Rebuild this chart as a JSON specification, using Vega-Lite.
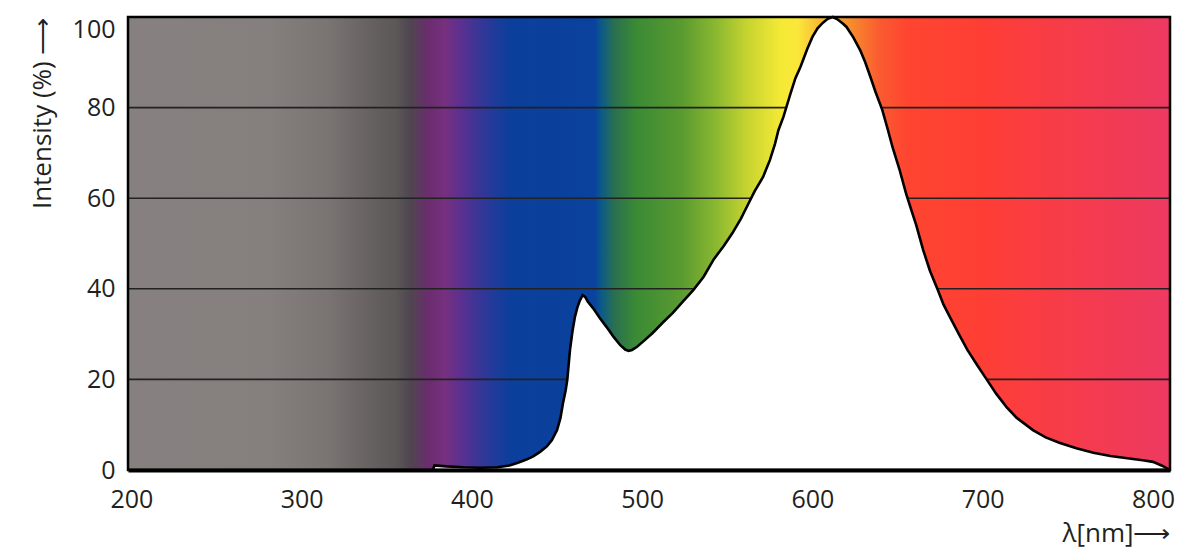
{
  "$schema": "https://vega.github.io/schema/vega-lite/v6.json",
  "width": 1042,
  "height": 453,
  "autosize": {"type": "none"},
  "padding": {"left": 128, "top": 17, "right": 30, "bottom": 84},
  "background": "white",
  "config": {"view": {"stroke": null}, "font": "Open Sans"},
  "datasets": {
    "band": [{"nm": 198, "nm2": 810, "pct": 0, "pct2": 100}],
    "grid": [{"pct": 20}, {"pct": 40}, {"pct": 60}, {"pct": 80}],
    "spectrum": [
      {"nm": 377, "pct": 0}, {"nm": 378, "pct": 1.0}, {"nm": 385, "pct": 0.8}, {"nm": 395, "pct": 0.6},
      {"nm": 405, "pct": 0.5}, {"nm": 415, "pct": 0.6}, {"nm": 422, "pct": 1.0}, {"nm": 427, "pct": 1.6},
      {"nm": 432, "pct": 2.3}, {"nm": 436, "pct": 3.0}, {"nm": 440, "pct": 4.0}, {"nm": 444, "pct": 5.2},
      {"nm": 447, "pct": 6.6}, {"nm": 450, "pct": 8.8}, {"nm": 452, "pct": 11.5}, {"nm": 453.5, "pct": 14.8},
      {"nm": 455, "pct": 17.5}, {"nm": 456, "pct": 19.9}, {"nm": 457.6, "pct": 26.5}, {"nm": 459, "pct": 30.5},
      {"nm": 460.5, "pct": 33.8}, {"nm": 462, "pct": 36}, {"nm": 463.5, "pct": 37.5}, {"nm": 465, "pct": 38.6},
      {"nm": 466.5, "pct": 38.2}, {"nm": 468, "pct": 37.2}, {"nm": 471, "pct": 35.8}, {"nm": 475, "pct": 33.6},
      {"nm": 479, "pct": 31.6}, {"nm": 483, "pct": 29.5}, {"nm": 487, "pct": 27.6}, {"nm": 490, "pct": 26.6},
      {"nm": 492, "pct": 26.3}, {"nm": 494, "pct": 26.5}, {"nm": 497, "pct": 27.2}, {"nm": 501, "pct": 28.5},
      {"nm": 506, "pct": 30.2}, {"nm": 512, "pct": 32.5}, {"nm": 518, "pct": 34.7}, {"nm": 524, "pct": 37.2},
      {"nm": 530, "pct": 39.7}, {"nm": 536, "pct": 42.6}, {"nm": 542, "pct": 46.5}, {"nm": 548, "pct": 49.5},
      {"nm": 553, "pct": 52.3}, {"nm": 558, "pct": 55.5}, {"nm": 562, "pct": 58.5}, {"nm": 566, "pct": 61.5},
      {"nm": 571, "pct": 64.7}, {"nm": 575, "pct": 68.4}, {"nm": 578, "pct": 72}, {"nm": 580, "pct": 75},
      {"nm": 583, "pct": 78}, {"nm": 587, "pct": 83}, {"nm": 590, "pct": 86.5}, {"nm": 593, "pct": 89},
      {"nm": 597, "pct": 93}, {"nm": 600, "pct": 95.6}, {"nm": 603, "pct": 97.5}, {"nm": 606, "pct": 98.7},
      {"nm": 609, "pct": 99.6}, {"nm": 612, "pct": 100}, {"nm": 615, "pct": 99.4}, {"nm": 618, "pct": 98.5},
      {"nm": 620, "pct": 97.8}, {"nm": 624, "pct": 95.5}, {"nm": 628, "pct": 92.7}, {"nm": 631, "pct": 90},
      {"nm": 634, "pct": 86.8}, {"nm": 637, "pct": 83.5}, {"nm": 641, "pct": 79.5}, {"nm": 644, "pct": 75.5},
      {"nm": 647, "pct": 71.3}, {"nm": 651, "pct": 66.5}, {"nm": 655, "pct": 61}, {"nm": 658, "pct": 57.5},
      {"nm": 661, "pct": 54}, {"nm": 665, "pct": 48.6}, {"nm": 669, "pct": 44}, {"nm": 673.7, "pct": 39.7},
      {"nm": 677, "pct": 36.5}, {"nm": 681, "pct": 33.6}, {"nm": 686, "pct": 30}, {"nm": 691, "pct": 26.5},
      {"nm": 697, "pct": 23}, {"nm": 702.5, "pct": 19.9}, {"nm": 708, "pct": 16.8}, {"nm": 714, "pct": 13.9},
      {"nm": 720, "pct": 11.5}, {"nm": 729.5, "pct": 8.8}, {"nm": 737, "pct": 7.2}, {"nm": 745, "pct": 6},
      {"nm": 755, "pct": 4.8}, {"nm": 765, "pct": 3.8}, {"nm": 775, "pct": 3.1}, {"nm": 785, "pct": 2.6},
      {"nm": 795, "pct": 2.1}, {"nm": 800, "pct": 1.8}, {"nm": 805, "pct": 1.0}, {"nm": 808, "pct": 0.4},
      {"nm": 810, "pct": 0}
    ]
  },
  "layer": [
    {
      "data": {"name": "band"},
      "mark": {
        "type": "rect",
        "fill": {
          "gradient": "linear", "x1": 0, "x2": 1, "y1": 0, "y2": 0,
          "stops": [
            {"offset": 0, "color": "#868180"},
            {"offset": 0.134, "color": "#857f7d"},
            {"offset": 0.191, "color": "#7a7473"},
            {"offset": 0.232, "color": "#676161"},
            {"offset": 0.2565, "color": "#5c5858"},
            {"offset": 0.271, "color": "#4f4650"},
            {"offset": 0.288, "color": "#6a2d6e"},
            {"offset": 0.304, "color": "#77307f"},
            {"offset": 0.3196, "color": "#5b3090"},
            {"offset": 0.336, "color": "#3a3595"},
            {"offset": 0.352, "color": "#1f3b9a"},
            {"offset": 0.368, "color": "#0b3f9b"},
            {"offset": 0.448, "color": "#0a429e"},
            {"offset": 0.454, "color": "#0a5a8a"},
            {"offset": 0.467, "color": "#2a7050"},
            {"offset": 0.487, "color": "#3a8a35"},
            {"offset": 0.531, "color": "#5a9a30"},
            {"offset": 0.564, "color": "#8ab830"},
            {"offset": 0.595, "color": "#c8d430"},
            {"offset": 0.627, "color": "#f5ea35"},
            {"offset": 0.643, "color": "#fbe63a"},
            {"offset": 0.665, "color": "#f8b835"},
            {"offset": 0.691, "color": "#f7902e"},
            {"offset": 0.722, "color": "#fa5a30"},
            {"offset": 0.748, "color": "#ff4530"},
            {"offset": 0.819, "color": "#fe3e35"},
            {"offset": 0.882, "color": "#f83c45"},
            {"offset": 0.948, "color": "#f23a55"},
            {"offset": 1, "color": "#ee3a62"}
          ]
        }
      },
      "encoding": {
        "x": {
          "field": "nm", "type": "quantitative",
          "scale": {"domain": [198, 810], "nice": false, "zero": false},
          "axis": {
            "values": [200, 300, 400, 500, 600, 700, 800],
            "ticks": false, "tickSize": 0, "grid": false,
            "domain": true, "domainColor": "black", "domainWidth": 4,
            "labelFontSize": 25, "labelColor": "#231f20", "labelPadding": 17, "labelFlush": false,
            "title": "λ[nm]⟶", "titleAnchor": "end", "titleFontSize": 26, "titleFontWeight": "normal",
            "titleColor": "#231f20", "titlePadding": 8, "zindex": 1
          }
        },
        "x2": {"field": "nm2"},
        "y": {
          "field": "pct", "type": "quantitative",
          "scale": {"domain": [0, 100], "nice": false},
          "axis": {
            "values": [0, 20, 40, 60, 80, 100],
            "ticks": false, "tickSize": 0, "grid": false, "domain": false,
            "labelFontSize": 25, "labelColor": "#231f20", "labelPadding": 13,
            "labelBaseline": {"condition": {"test": "datum.value == 100", "value": "top"}, "value": "middle"},
            "title": "Intensity (%) ⟶", "titleAnchor": "end", "titleFontSize": 26, "titleFontWeight": "normal",
            "titleColor": "#231f20", "titlePadding": 17
          }
        },
        "y2": {"field": "pct2"}
      }
    },
    {
      "data": {"name": "grid"},
      "mark": {"type": "rule", "color": "#222222", "strokeWidth": 1.6},
      "encoding": {"y": {"field": "pct", "type": "quantitative"}}
    },
    {
      "data": {"name": "spectrum"},
      "mark": {"type": "area", "color": "white", "opacity": 1},
      "encoding": {
        "x": {"field": "nm", "type": "quantitative"},
        "y": {"field": "pct", "type": "quantitative"}
      }
    },
    {
      "data": {"name": "spectrum"},
      "mark": {"type": "line", "color": "black", "strokeWidth": 2.6},
      "encoding": {
        "x": {"field": "nm", "type": "quantitative"},
        "y": {"field": "pct", "type": "quantitative"}
      }
    },
    {
      "data": {"name": "band"},
      "mark": {"type": "rect", "fill": null, "stroke": "black", "strokeWidth": 2.5},
      "encoding": {
        "x": {"field": "nm", "type": "quantitative"},
        "x2": {"field": "nm2"},
        "y": {"field": "pct", "type": "quantitative"},
        "y2": {"field": "pct2"}
      }
    }
  ]
}
